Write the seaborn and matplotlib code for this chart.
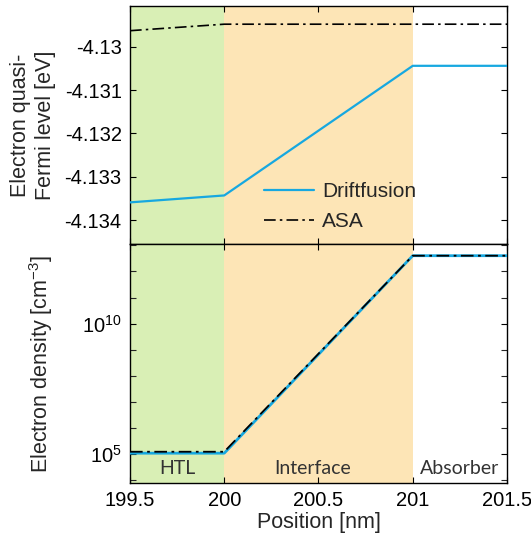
import numpy as np
import pandas as pd
import matplotlib
matplotlib.use("Agg")
import matplotlib.pyplot as plt
import seaborn as sns
from matplotlib.ticker import FixedLocator, FixedFormatter, NullFormatter
from matplotlib.lines import Line2D

# ---- data ----
position = [199.5, 200.0, 201.0, 201.5]
efn_driftfusion = [-4.13359, -4.13343, -4.13044, -4.13044]
efn_asa = [-4.12963, -4.12948, -4.12948, -4.12948]
n_driftfusion = [1.1e5, 1.1e5, 4.0e12, 4.0e12]
n_asa = [1.25e5, 1.25e5, 4.0e12, 4.0e12]
regions = ["HTL", "Interface", "Absorber"]
region_bounds = [(199.5, 200.0), (200.0, 201.0), (201.0, 201.5)]
region_colors = ["#d9efb5", "#fde5b6", None]
xticks = [199.5, 200, 200.5, 201, 201.5]
xticklabels = ["199.5", "200", "200.5", "201", "201.5"]
efn_ticks = [-4.134, -4.133, -4.132, -4.131, -4.13]
efn_ticklabels = ["-4.134", "-4.133", "-4.132", "-4.131", "-4.13"]

sns.set_style("ticks")
plt.rcParams['font.family'] = ['Liberation Sans', 'DejaVu Sans']
plt.rcParams['axes.unicode_minus'] = False
plt.rcParams['mathtext.fontset'] = 'custom'
plt.rcParams['mathtext.rm'] = 'Liberation Sans'
plt.rcParams['mathtext.it'] = 'Liberation Sans'

blue = "#17a8e0"
dashdot = (0, (7, 2.5, 1.5, 2.5))

fig = plt.figure(figsize=(5.31, 5.39), dpi=100)
W = 0.71
ax1 = fig.add_axes([0.2448, 0.5473, W, 0.9889 - 0.5473])
ax2 = fig.add_axes([0.2448, 0.1039, W, 0.5473 - 0.1039])

df1 = pd.DataFrame({"x": position, "df": efn_driftfusion, "asa": efn_asa})
df2 = pd.DataFrame({"x": position, "df": n_driftfusion, "asa": n_asa})

for ax in (ax1, ax2):
    for (a, b), c in zip(region_bounds, region_colors):
        if c:
            ax.axvspan(a, b, color=c, lw=0, zorder=0)

sns.lineplot(data=df1, x="x", y="df", ax=ax1, color=blue, lw=1.6, zorder=3)
sns.lineplot(data=df1, x="x", y="asa", ax=ax1, color="black", lw=1.2,
             linestyle=dashdot, zorder=4)
sns.lineplot(data=df2, x="x", y="df", ax=ax2, color=blue, lw=2.0, zorder=3)
sns.lineplot(data=df2, x="x", y="asa", ax=ax2, color="black", lw=1.3,
             linestyle=dashdot, zorder=4)

for ax in (ax1, ax2):
    ax.set_xlim(199.5, 201.5)
    ax.set_xticks(xticks)
    ax.tick_params(direction="in", top=True, right=True, length=4, width=0.8,
                   labelsize=14.5, colors="black", pad=6)
    ax.tick_params(which="minor", direction="in", right=True, left=True, length=4, width=0.8)
    for s in ax.spines.values():
        s.set_linewidth(1.0)
        s.set_color("black")
    ax.set_xlabel("")
    ax.set_ylabel("")

ax1.set_xticklabels([])
ax2.set_xticklabels(xticklabels)

ax1.set_ylim(-4.13455, -4.12906)
ax1.set_yticks(efn_ticks)
ax1.set_yticklabels(efn_ticklabels)
ax1.set_ylabel("Electron quasi-\nFermi level [eV]", fontsize=15.5, linespacing=1.25)
ax1.yaxis.set_label_coords(-0.195, 0.5)

ax2.set_yscale("log")
ax2.set_ylim(10**3.9, 10**13.05)
ax2.yaxis.set_major_locator(FixedLocator([1e5, 1e10]))
ax2.yaxis.set_major_formatter(FixedFormatter(["10$^{5}$", "10$^{10}$"]))
ax2.yaxis.set_minor_locator(FixedLocator([10.0**k for k in range(4, 14) if k not in (5, 10)]))
ax2.yaxis.set_minor_formatter(NullFormatter())
ax2.set_ylabel("Electron density [cm$^{-3}$]", fontsize=15.5)
ax2.yaxis.set_label_coords(-0.2, 0.5)
ax2.set_xlabel("Position [nm]", fontsize=15.5, labelpad=1)

label_x = [199.75, 200.47, 201.25]
for name, xx in zip(regions, label_x):
    ax2.text(xx, 0.06, name, transform=ax2.get_xaxis_transform(), ha="center",
             va="center", fontsize=14, color="#333333", family=['Lato', 'DejaVu Sans'])

handles = [Line2D([], [], color=blue, lw=1.6),
           Line2D([], [], color="black", lw=1.2, linestyle=dashdot)]
ax1.legend(handles, ["Driftfusion", "ASA"], loc="upper left",
           bbox_to_anchor=(0.305, 0.34), frameon=False, fontsize=15,
           handlelength=2.4, handletextpad=0.4, labelspacing=0.55)

fig.savefig("out.png", dpi=100)
